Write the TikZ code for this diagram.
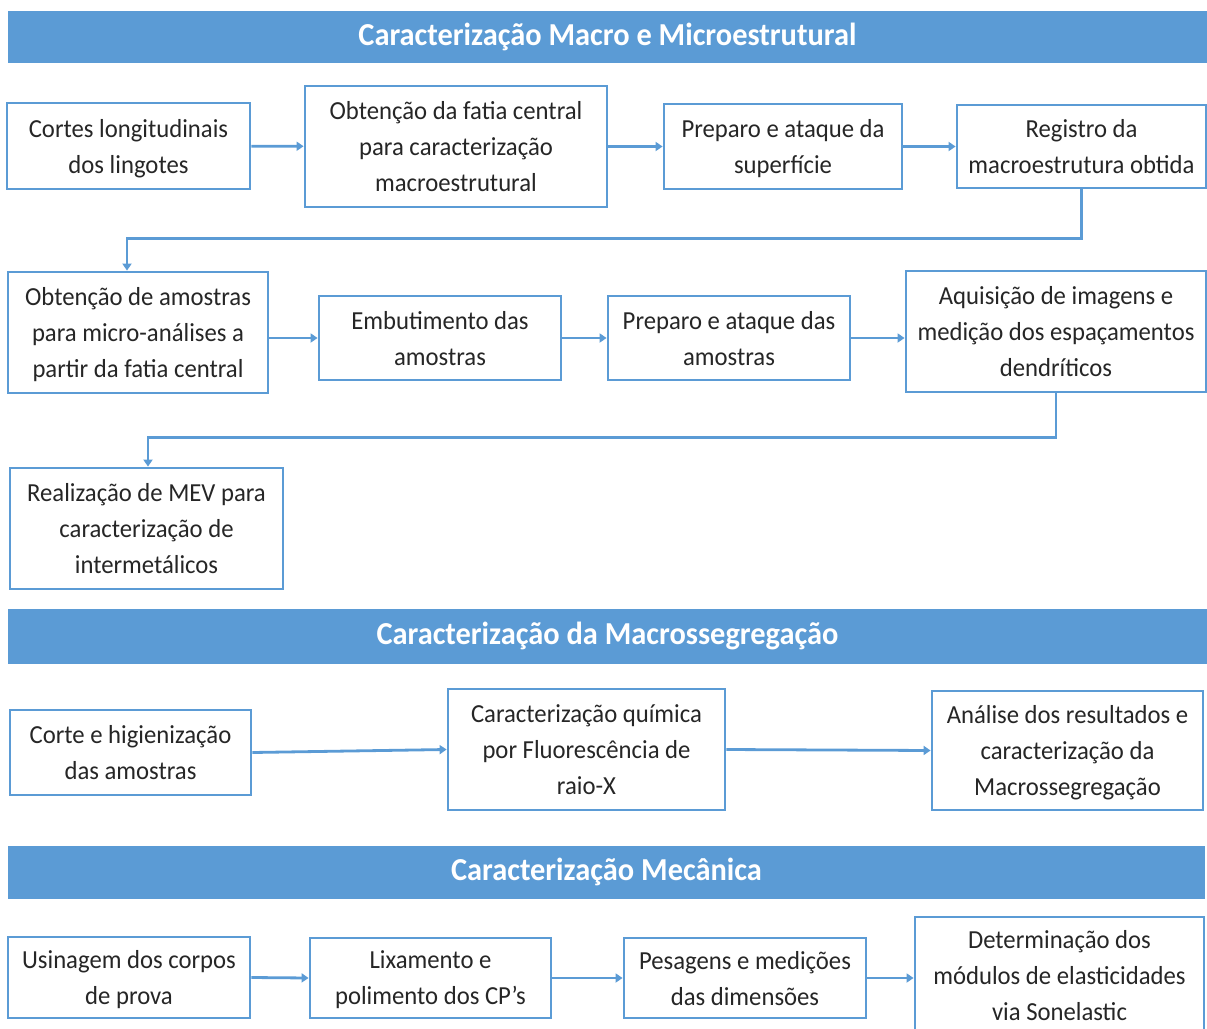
\documentclass[tikz,border=0pt]{standalone}
\usepackage{fontspec}
\setmainfont{Carlito}[FakeStretch=0.95]
\usepackage{xcolor}
\definecolor{office}{RGB}{91,155,213}
\definecolor{ink}{RGB}{38,38,38}
\usepackage{tikz}
\usetikzlibrary{arrows.meta,positioning,calc}

\begin{document}
\begin{tikzpicture}[x=0.5pt,y=-0.5pt,
        box/.style={rectangle, draw=office, line width=1.4pt, fill=white, align=center, inner sep=0pt, text depth=-2pt, text=ink, font=\fontsize{13}{18}\selectfont},
        header/.style={rectangle, fill=office, text=white, inner sep=0pt, minimum width=599.5pt, font=\bfseries\fontsize{16}{20}\selectfont},
        flow/.style={-{Triangle[length=3.5pt,width=4.5pt]}, line width=1.4pt, office}
    ]
        \useasboundingbox (0,0) rectangle (1207,1029);
        \clip (0,0) rectangle (1207,1029);

        % section 1
        \node[header, minimum height=26pt] (h1) at (607.5,37) {Caracterização Macro e Microestrutural};

        \node[box, minimum width=121.5pt, minimum height=43pt] (corte) at (128.5,146) {Cortes longitudinais\\dos lingotes};
        \node[box, minimum width=151pt, minimum height=60.5pt] (fatia) at (456,146.5) {Obtenção da fatia central\\para caracterização\\macroestrutural};
        \node[box, minimum width=119pt, minimum height=42.5pt] (ataque) at (783,146.5) {Preparo e ataque da\\superfície};
        \node[box, minimum width=124.5pt, minimum height=41.5pt] (registro) at (1081.5,146.5) {Registro da\\macroestrutura obtida};

        \node[box, minimum width=130pt, minimum height=60.5pt] (amostras) at (138,332.5) {Obtenção de amostras\\para micro-análises a\\partir da fatia central};
        \node[box, minimum width=121pt, minimum height=42pt] (embut) at (440,338) {Embutimento das\\amostras};
        \node[box, minimum width=121pt, minimum height=42pt] (preparo) at (729,338) {Preparo e ataque das\\amostras};
        \node[box, minimum width=150pt, minimum height=60.5pt] (aquis) at (1056,331.5) {Aquisição de imagens e\\medição dos espaçamentos\\dendríticos};

        \node[box, minimum width=136.5pt, minimum height=60.5pt] (mev) at (146.5,528.5) {Realização de MEV para\\caracterização de\\intermetálicos};

        % section 2
        \node[header, minimum height=27.5pt] (h2) at (607.5,636) {Caracterização da Macrossegregação};

        \node[box, minimum width=120.5pt, minimum height=42.5pt] (higien) at (130.5,752.5) {Corte e higienização\\das amostras};
        \node[box, minimum width=138.5pt, minimum height=60.5pt] (fluor) at (586.5,749.5) {Caracterização química\\por Fluorescência de\\raio-X};
        \node[box, minimum width=135.5pt, minimum height=59.5pt] (analise) at (1067.5,750.5) {Análise dos resultados e\\caracterização da\\Macrossegregação};

        % section 3
        \node[header, minimum height=26.5pt, minimum width=598.5pt] (h3) at (606.5,872) {Caracterização Mecânica};

        \node[box, minimum width=121pt, minimum height=40.5pt] (usin) at (129,977.5) {Usinagem dos corpos\\de prova};
        \node[box, minimum width=120.5pt, minimum height=40pt] (lixa) at (430.5,978) {Lixamento e\\polimento dos CP’s};
        \node[box, minimum width=121pt, minimum height=40pt] (pesag) at (745,978) {Pesagens e medições\\das dimensões};
        \node[box, minimum width=144.5pt, minimum height=58.5pt] (modulo) at (1059.5,975.5) {Determinação dos\\módulos de elasticidades\\via Sonelastic};

        \draw[flow] (corte) -- (fatia);
        \draw[flow] (fatia) -- (ataque);
        \draw[flow] (ataque) -- (registro);
        \draw[flow] (registro.south) -- ++(0,49) -| ([xshift=-5.5pt]amostras.north);
        \draw[flow] (amostras.east |- embut) -- (embut);
        \draw[flow] (embut) -- (preparo);
        \draw[flow] (preparo) -- (preparo -| aquis.west);
        \draw[flow] (aquis.south) -- ++(0,44) -| ([xshift=0.75pt]mev.north);
        \draw[flow] (higien.east) -- (fluor.west);
        \draw[flow] (fluor.east) -- (analise.west);
        \draw[flow] (usin.east) -- (lixa.west);
        \draw[flow] (lixa) -- (pesag);
        \draw[flow] (pesag) -- (pesag -| modulo.west);
    \end{tikzpicture}
\end{document}
